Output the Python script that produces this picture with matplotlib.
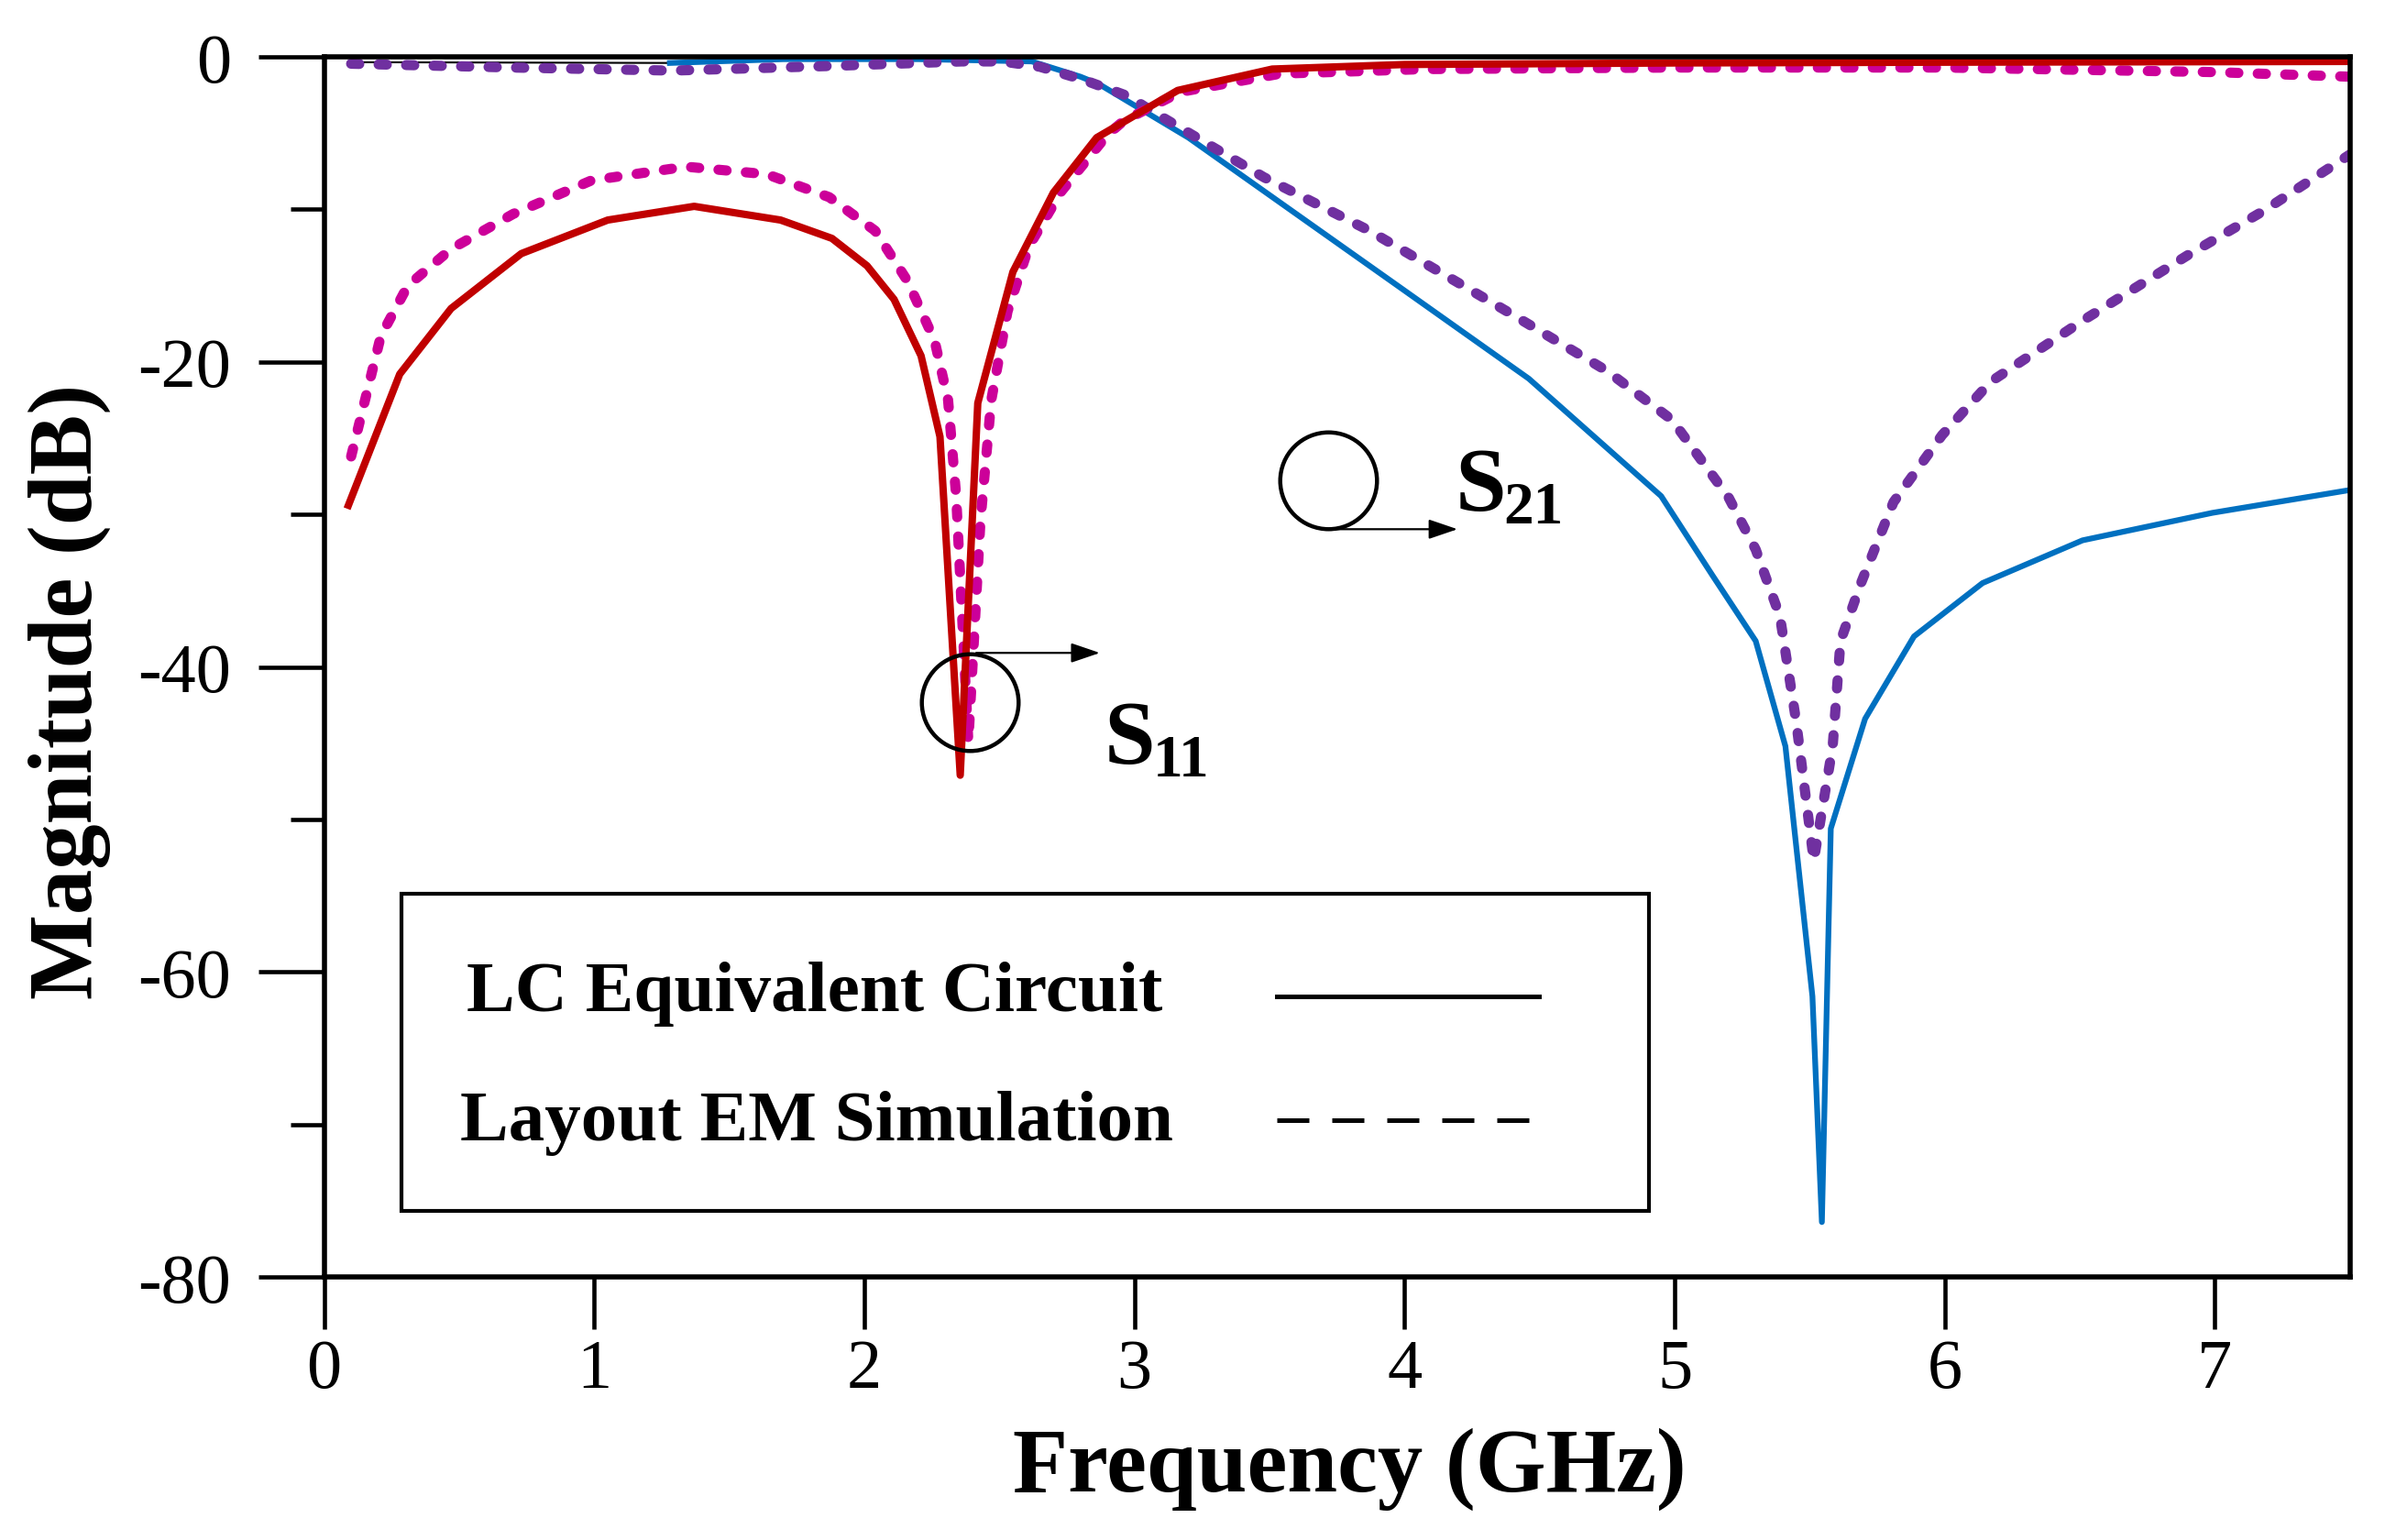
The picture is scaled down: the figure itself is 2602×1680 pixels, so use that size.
import matplotlib
matplotlib.use("Agg")
import matplotlib.pyplot as plt
from matplotlib.patches import Rectangle
from matplotlib.lines import Line2D

plt.rcParams["font.family"] = ["Liberation Serif", "DejaVu Serif"]

# S11, LC equivalent circuit (red solid)
f_s11_lc = [0.09, 0.28, 0.47, 0.73, 1.05, 1.37, 1.69, 1.88, 2.01, 2.11, 2.21, 2.28,
            2.355, 2.42, 2.55, 2.70, 2.86, 3.16, 3.51, 4.0, 5.0, 6.0, 7.5]
s11_lc = [-29.4, -20.8, -16.5, -12.9, -10.7, -9.8, -10.7, -11.9, -13.7, -15.9, -19.6, -24.9,
          -47.1, -22.7, -14.1, -8.9, -5.3, -2.2, -0.8, -0.5, -0.4, -0.35, -0.3]

# S11, layout EM simulation (magenta dashed)
f_s11_em = [0.10, 0.21, 0.31, 0.47, 0.70, 0.99, 1.34, 1.64, 1.87, 2.04, 2.16, 2.26, 2.31,
            2.34, 2.385, 2.43, 2.47, 2.53, 2.61, 2.73, 2.90, 2.96, 3.17, 3.54, 4.08, 5.0,
            6.0, 7.0, 7.5]
s11_em = [-26.2, -18.3, -15.0, -12.6, -10.3, -8.1, -7.2, -7.7, -9.2, -11.4, -14.7, -18.6, -22.5,
          -28.8, -44.9, -30.4, -22.5, -16.7, -12.4, -8.8, -5.1, -4.2, -2.3, -1.1, -0.8, -0.7,
          -0.7, -1.0, -1.3]

# S21, LC equivalent circuit (blue solid)
f_s21_lc = [1.28, 1.7, 2.2, 2.62, 2.80, 2.87, 3.20, 3.99, 4.46, 4.95, 5.14, 5.30, 5.41,
            5.51, 5.545, 5.578, 5.705, 5.886, 6.14, 6.51, 6.99, 7.5]
s21_lc = [-0.4, -0.15, -0.15, -0.3, -1.3, -1.8, -5.3, -15.2, -21.1, -28.8, -34.0, -38.3, -45.2,
          -61.6, -76.4, -50.6, -43.4, -38.0, -34.5, -31.7, -29.9, -28.4]
# low-frequency part of the LC S21 trace, drawn thin black in the original
f_s21_lc_low = [0.1, 1.28]
s21_lc_low = [-0.35, -0.4]

# S21, layout EM simulation (purple dashed)
f_s21_em = [0.1, 0.70, 1.29, 1.87, 2.36, 2.51, 2.65, 2.81, 2.98, 3.05, 3.48, 3.87, 4.39,
            4.75, 4.99, 5.2, 5.30, 5.39, 5.45, 5.515, 5.585, 5.614, 5.69, 5.81, 5.99, 6.17,
            6.51, 6.90, 7.18, 7.5]
s21_em = [-0.45, -0.7, -0.9, -0.6, -0.3, -0.3, -0.65, -1.5, -2.6, -3.4, -7.9, -11.4, -16.8,
          -20.6, -23.8, -28.9, -32.3, -36.7, -43.6, -52.7, -45.2, -38.3, -34.5, -29.2, -24.8, -21.3,
          -17.3, -13.0, -10.1, -6.4]

x_ticks = [0, 1, 2, 3, 4, 5, 6, 7]
y_ticks = [0, -20, -40, -60, -80]
y_minor = [-10, -30, -50, -70]
legend_labels = ["LC Equivalent Circuit", "Layout EM Simulation"]

fig = plt.figure(figsize=(26.02, 16.81), dpi=100)
ax = fig.add_axes([0.1359, 0.1707, 0.8494, 0.7918])

dash = (0.8, 1.9)
ax.plot(f_s21_lc_low, s21_lc_low, color="black", lw=1.5)
ax.plot(f_s21_lc, s21_lc, color="#0070C0", lw=4.5)
ax.plot(f_s21_em, s21_em, color="#7030A0", lw=8, dashes=dash, dash_capstyle="round")
ax.plot(f_s11_em, s11_em, color="#CC0099", lw=8, dashes=dash, dash_capstyle="round")
ax.plot(f_s11_lc, s11_lc, color="#C00000", lw=5.8)

ax.set_xlim(0, 7.5)
ax.set_ylim(-80, 0)
ax.set_xticks(x_ticks)
ax.set_yticks(y_ticks)
ax.set_yticks(y_minor, minor=True)
ax.set_xticklabels([str(t) for t in x_ticks])
ax.set_yticklabels([str(t) for t in y_ticks])
ax.tick_params(axis="x", direction="out", length=41, width=3.3, pad=7, labelsize=55)
ax.tick_params(axis="y", which="major", direction="out", length=52, width=3.3, pad=21, labelsize=55)
ax.tick_params(axis="y", which="minor", direction="out", length=27, width=3.3)
for s in ax.spines.values():
    s.set_linewidth(4)

ax.text(0.506, -0.1748, "Frequency (GHz)", transform=ax.transAxes, ha="center",
        va="baseline", fontsize=71, fontweight="bold")
ax.text(-0.1255, 0.4805, "Magnitude (dB)", transform=ax.transAxes, ha="center",
        va="center", rotation=90, fontsize=71, fontweight="bold")

# circles + arrows marking the S11 / S21 groups
ax.plot([2.392], [-42.34], marker="o", ms=76, mfc="none", mec="black", mew=3.2)
ax.plot([3.717], [-27.76], marker="o", ms=76, mfc="none", mec="black", mew=3.2)
arrow = dict(arrowstyle="-|>,head_length=0.97,head_width=0.33", color="black", lw=1.6,
             mutation_scale=20, shrinkA=0, shrinkB=0)
ax.annotate("", xy=(2.872, -39.08), xytext=(2.414, -39.08), arrowprops=arrow)
ax.annotate("", xy=(4.196, -30.97), xytext=(3.707, -30.97), arrowprops=arrow)

for (x, y, sub) in [(2.889, -46.26, "11"), (4.186, -29.67, "21")]:
    ax.text(x, y, "S", fontsize=72, fontweight="bold", ha="left", va="baseline")
    ax.annotate(sub, xy=(x, y), xytext=(38, -10), textcoords="offset points",
                fontsize=47, fontweight="bold", ha="left", va="baseline")

# hand-drawn style legend box
ax.add_patch(Rectangle((0.0382, 0.0541), 0.6158, 0.2603, transform=ax.transAxes,
                       fill=False, lw=3, edgecolor="black", zorder=5))
ax.text(0.0704, 0.2186, legend_labels[0], transform=ax.transAxes, fontsize=57,
        fontweight="bold", va="baseline", ha="left")
ax.text(0.0672, 0.1127, legend_labels[1], transform=ax.transAxes, fontsize=57,
        fontweight="bold", va="baseline", ha="left")
ax.add_line(Line2D([0.4703, 0.5999], [0.2299, 0.2299], transform=ax.transAxes,
                   color="black", lw=3.6))
ax.add_line(Line2D([0.4703, 0.5958], [0.1285, 0.1285], transform=ax.transAxes,
                   color="black", lw=3.6, dashes=(7, 5)))

fig.savefig("out.png", dpi=100)
